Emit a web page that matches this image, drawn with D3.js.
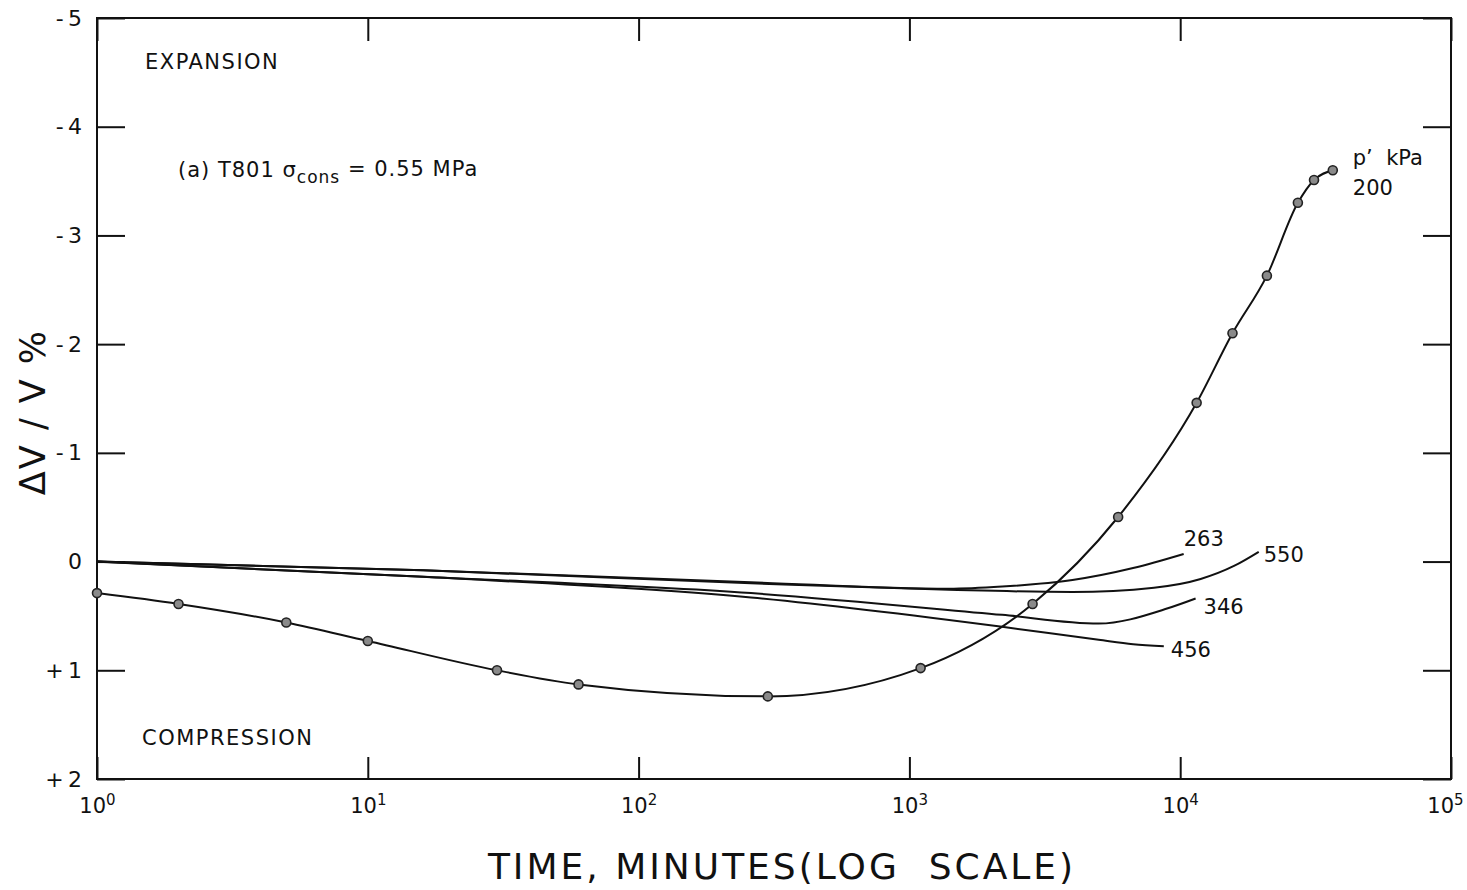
<!DOCTYPE html>
<html>
<head>
<meta charset="utf-8">
<script src="https://cdn.jsdelivr.net/npm/d3@7"></script>
<style>
    body { margin: 0; background: #fff; }
    text { font-family: "DejaVu Sans", sans-serif; fill: #111; }
    .axis path { display: none; }
    .axis line { stroke: #111; stroke-width: 2; }
    .curve { fill: none; stroke: #111; stroke-width: 2; }
    .dot { fill: #8a8a8a; stroke: #222; stroke-width: 1.6; }
</style>
</head>
<body>
<div id="chart"></div>
<script>
// values (time in minutes, dV/V in %; negative = expansion)
const p200Time = [1, 2, 5, 10, 30, 60, 300, 1100, 2850, 5900, 11500, 15600, 20900, 27200, 31200, 36600]
const p200Vol = [0.29, 0.39, 0.56, 0.73, 1.00, 1.13, 1.24, 0.98, 0.39, -0.41, -1.46, -2.10, -2.63, -3.30, -3.51, -3.60]

const p263Time = [1, 16, 260, 1400, 2200, 4000, 6700, 10300]
const p263Vol = [0, 0.08, 0.19, 0.25, 0.23, 0.17, 0.06, -0.07]

const p550Time = [1, 16, 260, 1400, 4000, 8000, 11900, 15800, 19500]
const p550Vol = [0, 0.08, 0.20, 0.26, 0.28, 0.24, 0.16, 0.04, -0.09]

const p346Time = [1, 16, 260, 2200, 5000, 9000, 11400]
const p346Vol = [0, 0.14, 0.29, 0.49, 0.57, 0.43, 0.34]

const p456Time = [1, 16, 260, 2200, 5000, 6700, 8700]
const p456Vol = [0, 0.14, 0.33, 0.60, 0.72, 0.76, 0.78]

const seriesNames = ["263", "550", "346", "456"]
const xTicks = [1, 10, 100, 1000, 10000, 100000]
const yTicks = [-5, -4, -3, -2, -1, 0, 1, 2]

const width = 1467, height = 890
const plot = { left: 97, right: 1451, top: 18, bottom: 779 }

const xScale = d3.scaleLog().domain([1, 1e5]).range([plot.left, plot.right])
const yScale = d3.scaleLinear().domain([-5, 2]).range([plot.top, plot.bottom])

const svg = d3.select("#chart")
    .append("svg")
    .attr("width", width)
    .attr("height", height)

function zip(times, vols) {
    return times.map((t, i) => ({ t: t, v: vols[i] }))
}

const line = d3.line()
    .x(d => xScale(d.t))
    .y(d => yScale(d.v))
    .curve(d3.curveMonotoneX)

// frame
svg.append("rect")
    .attr("x", plot.left)
    .attr("y", plot.top)
    .attr("width", plot.right - plot.left)
    .attr("height", plot.bottom - plot.top)
    .attr("fill", "none")
    .attr("stroke", "#111")
    .attr("stroke-width", 2)

// axes, ticks pointing inward on all four sides
const supers = { 1: "0", 10: "1", 100: "2", 1000: "3", 10000: "4", 100000: "5" }

const xAxis = svg.append("g")
    .attr("class", "axis")
    .attr("transform", `translate(0,${plot.bottom})`)
    .call(d3.axisBottom(xScale).tickValues(xTicks).tickSizeInner(-22).tickSizeOuter(0).tickPadding(14).tickFormat(""))

xAxis.selectAll(".tick text")
    .style("font-size", "21px")
    .attr("dy", "0.95em")
    .attr("dx", d => d === 1e5 ? -6 : 0)
    .each(function (d) {
        const t = d3.select(this)
        t.append("tspan").text("10")
        t.append("tspan").attr("dy", "-0.55em").style("font-size", "15px").text(supers[d])
    })

svg.append("g")
    .attr("class", "axis")
    .attr("transform", `translate(0,${plot.top})`)
    .call(d3.axisTop(xScale).tickValues(xTicks).tickSizeInner(-23).tickSizeOuter(0).tickFormat(""))

svg.append("g")
    .attr("class", "axis")
    .attr("transform", `translate(${plot.left},0)`)
    .call(d3.axisLeft(yScale).tickValues(yTicks).tickSizeInner(-28).tickSizeOuter(0).tickPadding(15)
        .tickFormat(d => d < 0 ? "-\u2009" + Math.abs(d) : d > 0 ? "+\u2009" + d : "0"))
    .selectAll("text")
    .style("font-size", "22px")

svg.append("g")
    .attr("class", "axis")
    .attr("transform", `translate(${plot.right},0)`)
    .call(d3.axisRight(yScale).tickValues(yTicks).tickSizeInner(-28).tickSizeOuter(0).tickFormat(""))

// axis titles
svg.append("text")
    .attr("x", 782)
    .attr("y", 879)
    .attr("text-anchor", "middle")
    .style("font-size", "36px")
    .style("letter-spacing", "3px")
    .style("white-space", "pre")
    .text("TIME, MINUTES(LOG  SCALE)")

svg.append("text")
    .attr("transform", "translate(45,412) rotate(-90)")
    .attr("text-anchor", "middle")
    .style("font-size", "35px")
    .style("letter-spacing", "2px")
    .text("\u0394V / V %")

// notes inside the plot
svg.append("text")
    .attr("x", 145).attr("y", 69)
    .style("font-size", "21px")
    .style("letter-spacing", "1.5px")
    .text("EXPANSION")

svg.append("text")
    .attr("x", 142).attr("y", 745)
    .style("font-size", "21px")
    .style("letter-spacing", "1.5px")
    .text("COMPRESSION")

const note = svg.append("text")
    .attr("x", 178).attr("y", 177)
    .style("font-size", "21px")
    .style("letter-spacing", "1px")
note.append("tspan").text("(a) T801  \u03c3")
note.append("tspan").attr("dy", "0.35em").style("font-size", "17px").text("cons")
note.append("tspan").attr("dy", "-0.35em").text(" = 0.55 MPa")

// curves without markers
const others = [zip(p263Time, p263Vol), zip(p550Time, p550Vol), zip(p346Time, p346Vol), zip(p456Time, p456Vol)]
const labelOffsets = [[0, -8], [5, 10], [8, 15], [7, 11]]

others.forEach((data, i) => {
    svg.append("path")
        .datum(data)
        .attr("class", "curve")
        .attr("d", line)

    const last = data[data.length - 1]
    svg.append("text")
        .attr("x", xScale(last.t) + labelOffsets[i][0])
        .attr("y", yScale(last.v) + labelOffsets[i][1])
        .style("font-size", "21px")
        .text(seriesNames[i])
})

// p' = 200 kPa with measured points
const data200 = zip(p200Time, p200Vol)

svg.append("path")
    .datum(data200)
    .attr("class", "curve")
    .attr("d", line)

svg.selectAll(".dot")
    .data(data200)
    .enter().append("circle")
    .attr("class", "dot")
    .attr("cx", d => xScale(d.t))
    .attr("cy", d => yScale(d.v))
    .attr("r", 4.5)

const end200 = data200[data200.length - 1]
svg.append("text")
    .attr("x", xScale(end200.t) + 20)
    .attr("y", yScale(end200.v) - 5)
    .style("font-size", "21px")
    .style("white-space", "pre")
    .text("p\u2019  kPa")
svg.append("text")
    .attr("x", xScale(end200.t) + 20)
    .attr("y", yScale(end200.v) + 25)
    .style("font-size", "21px")
    .text("200")
</script>
</body>
</html>
